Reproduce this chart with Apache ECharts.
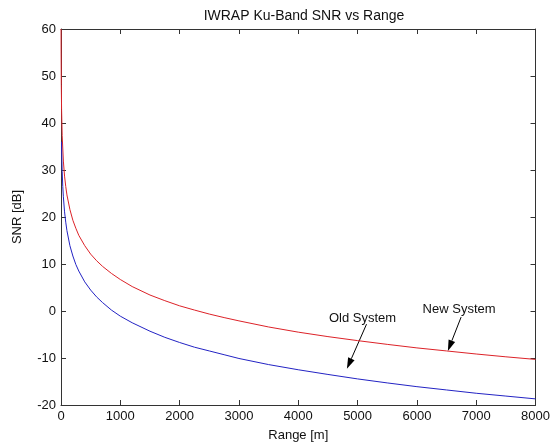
<!DOCTYPE html>
<html>
<head>
<meta charset="utf-8">
<script src="https://cdn.jsdelivr.net/npm/echarts@6/dist/echarts.min.js"></script>
<style>
html,body{margin:0;padding:0;background:#fff;}
#chart{width:553px;height:447px;}
</style>
</head>
<body>
<div id="chart"></div>
<script>
// Range samples [m] and SNR [dB] for each system
const newRange = [1.1, 2, 5, 10, 20, 40, 60, 80, 100, 150, 200, 250, 300, 400, 500, 600, 700, 850, 1000, 1200, 1500, 1750, 2000, 2250, 2500, 2750, 3000, 3500, 4000, 4500, 5000, 5500, 6000, 6500, 7000, 7500, 8000];
const newSnr   = [60.0, 55.3, 48.2, 42.8, 37.3, 31.9, 28.7, 26.5, 24.7, 21.6, 19.3, 17.6, 16.1, 13.9, 12.1, 10.7, 9.5, 8.0, 6.7, 5.2, 3.4, 2.2, 1.1, 0.2, -0.65, -1.4, -2.1, -3.4, -4.5, -5.45, -6.3, -7.1, -7.85, -8.5, -9.15, -9.75, -10.3];
const oldRange = [9, 10, 15, 20, 30, 40, 60, 80, 100, 150, 200, 250, 300, 400, 500, 600, 700, 850, 1000, 1200, 1500, 1750, 2000, 2250, 2500, 2750, 3000, 3500, 4000, 4500, 5000, 5500, 6000, 6500, 7000, 7500, 8000];
const oldSnr   = [36.0, 35.1, 32.0, 29.7, 26.5, 24.3, 21.1, 18.9, 17.1, 13.9, 11.7, 9.9, 8.5, 6.2, 4.45, 3.0, 1.8, 0.2, -1.1, -2.5, -4.3, -5.6, -6.7, -7.7, -8.5, -9.3, -10.1, -11.4, -12.5, -13.5, -14.45, -15.3, -16.1, -16.8, -17.5, -18.1, -18.7];

const xTicks = [0, 1000, 2000, 3000, 4000, 5000, 6000, 7000, 8000];
const yTicks = [-20, -10, 0, 10, 20, 30, 40, 50, 60];

// Annotations: text centre, arrow start and arrow tip, in data units
const notes = [
  { text: 'Old System', label: [5084, -1.5], from: [5151, -2.8], to: [4820, -12.3] },
  { text: 'New System', label: [6711, 0.4], from: [6745, -1.3], to: [6522, -8.5] }
];

const pairs = (xs, ys) => xs.map((x, i) => [x, ys[i]]);
const font = 'Liberation Sans, Arial, sans-serif';
const axisColor = '#333';
const textColor = '#111';

function boxAxis(pos, ticks, show) {
  return {
    type: 'value',
    position: pos,
    min: ticks[0],
    max: ticks[ticks.length - 1],
    interval: ticks[1] - ticks[0],
    axisLine: { show: true, onZero: false, lineStyle: { color: axisColor, width: 1 } },
    axisTick: { show: true, inside: true, length: 5, lineStyle: { color: axisColor } },
    axisLabel: { show: show, color: textColor, fontFamily: font, fontSize: 13, margin: 5, formatter: v => String(v) },
    splitLine: { show: false }
  };
}

const xMain = Object.assign(boxAxis('bottom', xTicks, true), {
  name: 'Range [m]', nameLocation: 'middle', nameGap: 24,
  nameTextStyle: { color: textColor, fontFamily: font, fontSize: 13 }
});
const xTop = boxAxis('top', xTicks, false);
const yMain = Object.assign(boxAxis('left', yTicks, true), {
  name: 'SNR [dB]', nameLocation: 'middle', nameGap: 37,
  nameTextStyle: { color: textColor, fontFamily: font, fontSize: 13 }
});
const yRight = boxAxis('right', yTicks, false);

const chart = echarts.init(document.getElementById('chart'), null, { renderer: 'canvas' });
chart.setOption({
  backgroundColor: '#fff',
  animation: false,
  title: {
    text: 'IWRAP Ku-Band SNR vs Range',
    left: 299, top: 4, textAlign: 'center',
    textStyle: { color: textColor, fontFamily: font, fontSize: 14, fontWeight: 'normal' }
  },
  grid: { left: 61, right: 15, top: 29, bottom: 41 },
  xAxis: [xMain, xTop],
  yAxis: [yMain, yRight],
  series: [
    {
      name: 'New System', type: 'line', data: pairs(newRange, newSnr),
      showSymbol: false, smooth: false, clip: true,
      lineStyle: { color: '#dc2228', width: 1 }
    },
    {
      name: 'Old System', type: 'line', data: pairs(oldRange, oldSnr),
      showSymbol: false, smooth: false, clip: true,
      lineStyle: { color: '#2323c4', width: 1 }
    }
  ]
});

// Text labels and arrows placed through the axis scales
const toPx = p => chart.convertToPixel({ xAxisIndex: 0, yAxisIndex: 0 }, p);
const graphics = [];
notes.forEach(n => {
  const lp = toPx(n.label), a = toPx(n.from), b = toPx(n.to);
  graphics.push({
    type: 'text', x: lp[0], y: lp[1], silent: true,
    style: { text: n.text, fill: textColor, font: '13px ' + font, textAlign: 'center', textVerticalAlign: 'middle' }
  });
  const dx = b[0] - a[0], dy = b[1] - a[1];
  const len = Math.hypot(dx, dy), ux = dx / len, uy = dy / len;
  const headLen = 11, headW = 3.5;
  const bx = b[0] - ux * headLen, by = b[1] - uy * headLen;
  graphics.push({
    type: 'line', silent: true,
    shape: { x1: a[0], y1: a[1], x2: bx, y2: by },
    style: { stroke: '#000', lineWidth: 1 }
  });
  graphics.push({
    type: 'polygon', silent: true,
    shape: { points: [[b[0], b[1]], [bx - uy * headW, by + ux * headW], [bx + uy * headW, by - ux * headW]] },
    style: { fill: '#000' }
  });
});
chart.setOption({ graphic: graphics });
</script>
</body>
</html>
